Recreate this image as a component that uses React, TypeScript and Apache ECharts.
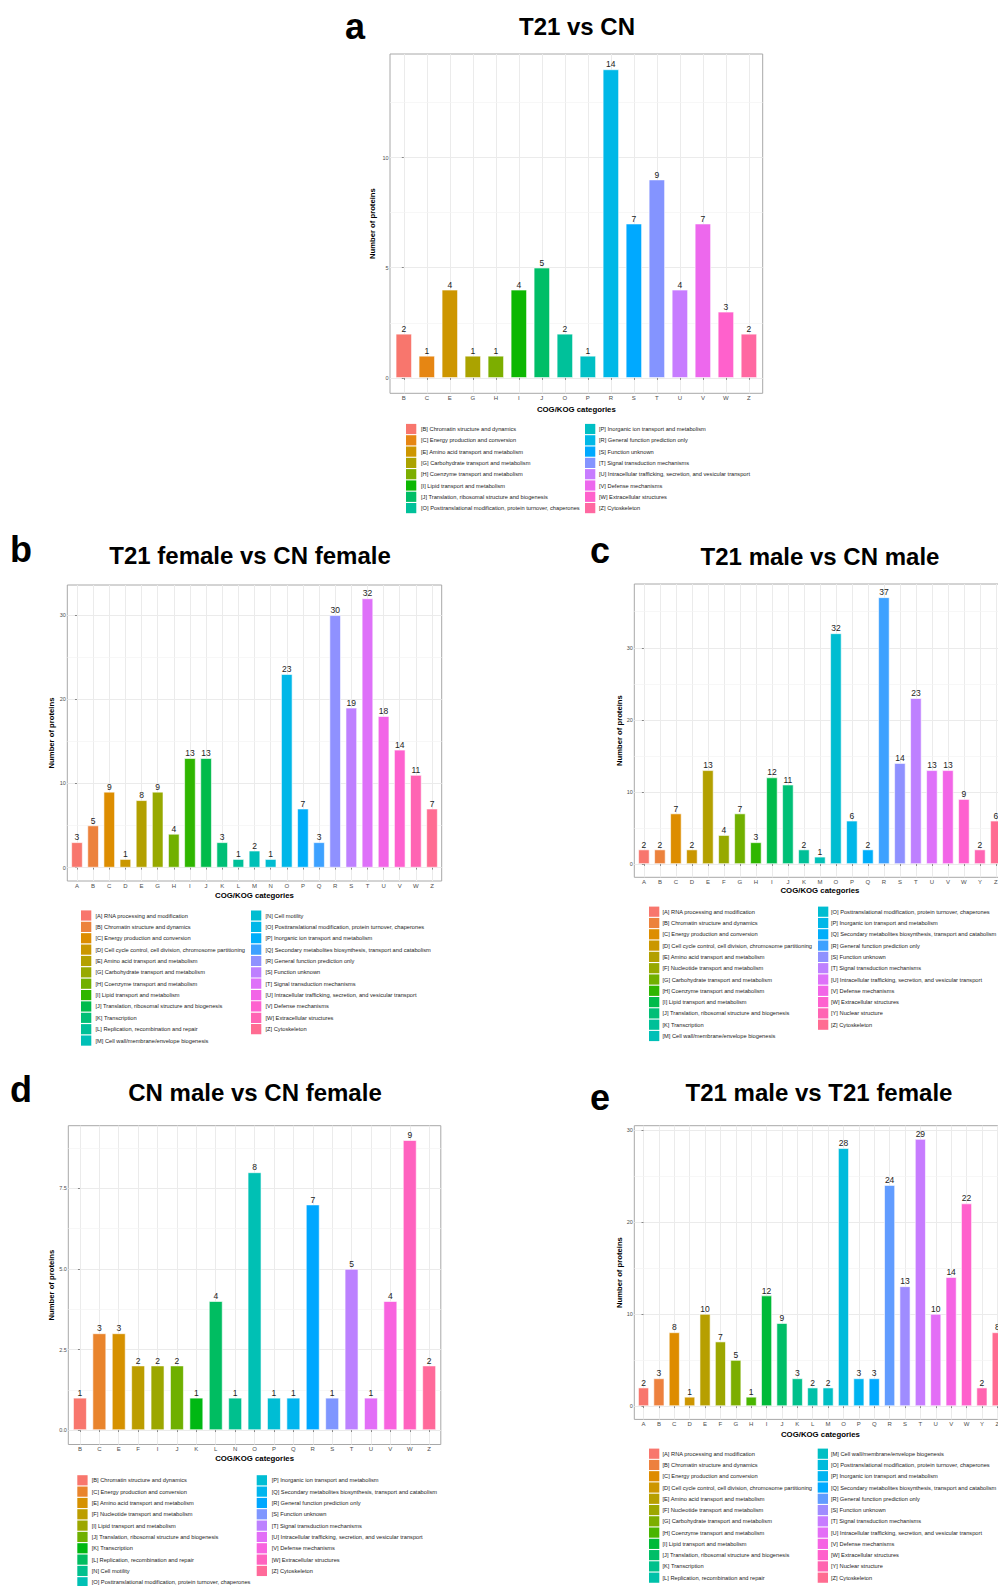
import React, { useEffect, useRef } from 'react';
import * as echarts from 'echarts';

const FONT = 'Arial, "Liberation Sans", Helvetica, sans-serif';

const DESC: Record<string, string> = {
  A: 'RNA processing and modification',
  B: 'Chromatin structure and dynamics',
  C: 'Energy production and conversion',
  D: 'Cell cycle control, cell division, chromosome partitioning',
  E: 'Amino acid transport and metabolism',
  F: 'Nucleotide transport and metabolism',
  G: 'Carbohydrate transport and metabolism',
  H: 'Coenzyme transport and metabolism',
  I: 'Lipid transport and metabolism',
  J: 'Translation, ribosomal structure and biogenesis',
  K: 'Transcription',
  L: 'Replication, recombination and repair',
  M: 'Cell wall/membrane/envelope biogenesis',
  N: 'Cell motility',
  O: 'Posttranslational modification, protein turnover, chaperones',
  P: 'Inorganic ion transport and metabolism',
  Q: 'Secondary metabolites biosynthesis, transport and catabolism',
  R: 'General function prediction only',
  S: 'Function unknown',
  T: 'Signal transduction mechanisms',
  U: 'Intracellular trafficking, secretion, and vesicular transport',
  V: 'Defense mechanisms',
  W: 'Extracellular structures',
  Y: 'Nuclear structure',
  Z: 'Cytoskeleton',
};

// Panel a
const titleA = 'T21 vs CN';
const catsA = ['B', 'C', 'E', 'G', 'H', 'I', 'J', 'O', 'P', 'R', 'S', 'T', 'U', 'V', 'W', 'Z'];
const valsA = [2, 1, 4, 1, 1, 4, 5, 2, 1, 14, 7, 9, 4, 7, 3, 2];
const yTicksA = [0, 5, 10];
const yTickLabelsA = ['0', '5', '10'];
const yMinorA = [2.5, 7.5, 12.5];

// Panel b
const titleB = 'T21 female vs CN female';
const catsB = ['A', 'B', 'C', 'D', 'E', 'G', 'H', 'I', 'J', 'K', 'L', 'M', 'N', 'O', 'P', 'Q', 'R', 'S', 'T', 'U', 'V', 'W', 'Z'];
const valsB = [3, 5, 9, 1, 8, 9, 4, 13, 13, 3, 1, 2, 1, 23, 7, 3, 30, 19, 32, 18, 14, 11, 7];
const yTicksB = [0, 10, 20, 30];
const yTickLabelsB = ['0', '10', '20', '30'];
const yMinorB = [5, 15, 25];

// Panel c
const titleC = 'T21 male vs CN male';
const catsC = ['A', 'B', 'C', 'D', 'E', 'F', 'G', 'H', 'I', 'J', 'K', 'M', 'O', 'P', 'Q', 'R', 'S', 'T', 'U', 'V', 'W', 'Y', 'Z'];
const valsC = [2, 2, 7, 2, 13, 4, 7, 3, 12, 11, 2, 1, 32, 6, 2, 37, 14, 23, 13, 13, 9, 2, 6];
const yTicksC = [0, 10, 20, 30];
const yTickLabelsC = ['0', '10', '20', '30'];
const yMinorC = [5, 15, 25, 35];

// Panel d
const titleD = 'CN male vs CN female';
const catsD = ['B', 'C', 'E', 'F', 'I', 'J', 'K', 'L', 'N', 'O', 'P', 'Q', 'R', 'S', 'T', 'U', 'V', 'W', 'Z'];
const valsD = [1, 3, 3, 2, 2, 2, 1, 4, 1, 8, 1, 1, 7, 1, 5, 1, 4, 9, 2];
const yTicksD = [0, 2.5, 5, 7.5];
const yTickLabelsD = ['0.0', '2.5', '5.0', '7.5'];
const yMinorD = [1.25, 3.75, 6.25, 8.75];

// Panel e
const titleE = 'T21 male vs T21 female';
const catsE = ['A', 'B', 'C', 'D', 'E', 'F', 'G', 'H', 'I', 'J', 'K', 'L', 'M', 'O', 'P', 'Q', 'R', 'S', 'T', 'U', 'V', 'W', 'Y', 'Z'];
const valsE = [2, 3, 8, 1, 10, 7, 5, 1, 12, 9, 3, 2, 2, 28, 3, 3, 24, 13, 29, 10, 14, 22, 2, 8];
const yTicksE = [0, 10, 20, 30];
const yTickLabelsE = ['0', '10', '20', '30'];
const yMinorE = [5, 15, 25];

const X_TITLE = 'COG/KOG categories';
const Y_TITLE = 'Number of proteins';

// ggplot2-like hue palette (HCL, l=65, c=100)
function hcl(h: number, c: number, l: number): string {
  const Xn = 95.047, Yn = 100, Zn = 108.883;
  const hr = (h * Math.PI) / 180;
  const U = c * Math.cos(hr);
  const V = c * Math.sin(hr);
  const Y = Yn * (l > 7.999592 ? Math.pow((l + 16) / 116, 3) : l / 903.3);
  const t = Xn + 15 * Yn + 3 * Zn;
  const un = (4 * Xn) / t;
  const vn = (9 * Yn) / t;
  const u = U / (13 * l) + un;
  const v = V / (13 * l) + vn;
  const X = (9 * Y * u) / (4 * v);
  const Z = -X / 3 - 5 * Y + (3 * Y) / v;
  const g = (x: number) => (x > 0.00304 ? 1.055 * Math.pow(x, 1 / 2.4) - 0.055 : 12.92 * x);
  const r = g((3.240479 * X - 1.53715 * Y - 0.498535 * Z) / Yn);
  const gg = g((-0.969256 * X + 1.875992 * Y + 0.041556 * Z) / Yn);
  const b = g((0.055648 * X - 0.204043 * Y + 1.057311 * Z) / Yn);
  const hx = (x: number) => {
    const n = Math.round(Math.max(0, Math.min(1, x)) * 255);
    return n.toString(16).padStart(2, '0');
  };
  return '#' + hx(r) + hx(gg) + hx(b);
}
function huePal(n: number): string[] {
  const out: string[] = [];
  for (let i = 0; i < n; i++) out.push(hcl(15 + (360 * i) / n, 100, 65));
  return out;
}

const panels = [
  { id: 'a', title: titleA, cats: catsA, vals: valsA, yTicks: yTicksA, yTickLabels: yTickLabelsA, yMinor: yMinorA,
    L: { left: 390, top: 54, width: 372.7, height: 339.3, titleX: 577, titleY: 26, letterX: 345, letterY: 26.5, yTitleX: 372, xTitleY: 409, legY: 429, legDy: 11.3, sqL: 406, txtL: 421, sqR: 585, txtR: 599 } },
  { id: 'b', title: titleB, cats: catsB, vals: valsB, yTicks: yTicksB, yTickLabels: yTickLabelsB, yMinor: yMinorB,
    L: { left: 67.3, top: 585, width: 374.4, height: 296, titleX: 250, titleY: 555, letterX: 10, letterY: 549, yTitleX: 51, xTitleY: 895, legY: 915.5, legDy: 11.37, sqL: 81, txtL: 95.5, sqR: 251, txtR: 265.5 } },
  { id: 'c', title: titleC, cats: catsC, vals: valsC, yTicks: yTicksC, yTickLabels: yTickLabelsC, yMinor: yMinorC,
    L: { left: 634.3, top: 584, width: 371.2, height: 293.3, titleX: 820, titleY: 556, letterX: 590, letterY: 550, yTitleX: 619, xTitleY: 890.7, legY: 911.7, legDy: 11.3, sqL: 649, txtL: 662.5, sqR: 818, txtR: 831 } },
  { id: 'd', title: titleD, cats: catsD, vals: valsD, yTicks: yTicksD, yTickLabels: yTickLabelsD, yMinor: yMinorD,
    L: { left: 68.3, top: 1125.7, width: 372.5, height: 318.8, titleX: 255, titleY: 1092, letterX: 10, letterY: 1089, yTitleX: 51, xTitleY: 1458.7, legY: 1480.3, legDy: 11.33, sqL: 77.3, txtL: 91.7, sqR: 256.7, txtR: 271.7 } },
  { id: 'e', title: titleE, cats: catsE, vals: valsE, yTicks: yTicksE, yTickLabels: yTickLabelsE, yMinor: yMinorE,
    L: { left: 634.3, top: 1125.7, width: 372.2, height: 293.7, titleX: 819, titleY: 1092, letterX: 590, letterY: 1097, yTitleX: 619, xTitleY: 1434, legY: 1453.7, legDy: 11.27, sqL: 649, txtL: 662.5, sqR: 817.7, txtR: 831 } },
];

function buildOption() {
  const grids: any[] = [];
  const xAxes: any[] = [];
  const yAxes: any[] = [];
  const series: any[] = [];
  const graphics: any[] = [];

  panels.forEach((p, k) => {
    const L = p.L;
    const n = p.cats.length;
    const colors = huePal(n);
    const maxV = Math.max(...p.vals);
    const idx = p.cats.map((_, i) => i);

    grids.push({
      left: L.left, top: L.top, width: L.width, height: L.height,
      show: true, borderColor: '#a8a8a8', borderWidth: 1, backgroundColor: '#ffffff', containLabel: false,
    });
    xAxes.push({
      type: 'value', gridIndex: k, min: -0.6, max: n - 1 + 0.6,
      axisLine: { show: false },
      axisTick: { show: true, customValues: idx, length: 2, lineStyle: { color: '#444', width: 0.6 } },
      axisLabel: {
        customValues: idx, margin: 1.5, fontSize: 6, color: '#4d4d4d', fontFamily: FONT,
        formatter: (v: number) => p.cats[Math.round(v)] ?? '',
      },
      splitLine: { show: true, lineStyle: { color: '#ebebeb', width: 1 } },
    });
    yAxes.push({
      type: 'value', gridIndex: k, min: -maxV * 0.05, max: maxV * 1.05,
      axisLine: { show: false },
      axisTick: { show: true, customValues: p.yTicks, length: 2, lineStyle: { color: '#444', width: 0.6 } },
      axisLabel: {
        customValues: p.yTicks, margin: 1.5, fontSize: 5.5, color: '#4d4d4d', fontFamily: FONT,
        formatter: (v: number) => {
          const i = p.yTicks.findIndex((t) => Math.abs(t - v) < 1e-6);
          return i >= 0 ? p.yTickLabels[i] : '';
        },
      },
      splitLine: { show: true, lineStyle: { color: '#ebebeb', width: 1 } },
    });
    series.push({
      type: 'bar', xAxisIndex: k, yAxisIndex: k, barWidth: '70%',
      data: p.vals.map((v, i) => ({ value: [i, v], itemStyle: { color: colors[i] } })),
      itemStyle: { borderColor: '#ffffff', borderWidth: 0.6 },
      label: {
        show: true, position: 'top', distance: 0.5, fontSize: 8.5, color: '#222', fontFamily: FONT,
        formatter: (q: any) => String(q.value[1]),
      },
      markLine: {
        silent: true, symbol: 'none', z: 1, animation: false,
        label: { show: false },
        lineStyle: { color: '#f4f4f4', type: 'solid', width: 0.7 },
        data: p.yMinor.map((v) => ({ yAxis: v })),
      },
      z: 2,
    });

    // titles
    graphics.push({
      type: 'text', x: L.titleX, y: L.titleY,
      style: { text: p.title, fontFamily: FONT, fontWeight: 'bold', fontSize: 24, fill: '#000', textAlign: 'center', textVerticalAlign: 'middle' },
    });
    graphics.push({
      type: 'text', x: L.letterX, y: L.letterY,
      style: { text: p.id, fontFamily: FONT, fontWeight: 'bold', fontSize: 36, fill: '#000', textAlign: 'left', textVerticalAlign: 'middle' },
    });
    graphics.push({
      type: 'text', x: L.yTitleX, y: L.top + L.height / 2, rotation: Math.PI / 2,
      style: { text: Y_TITLE, fontFamily: FONT, fontWeight: 'bold', fontSize: 7.7, fill: '#000', textAlign: 'center', textVerticalAlign: 'middle' },
    });
    graphics.push({
      type: 'text', x: L.left + L.width / 2, y: L.xTitleY,
      style: { text: X_TITLE, fontFamily: FONT, fontWeight: 'bold', fontSize: 7.8, fill: '#000', textAlign: 'center', textVerticalAlign: 'middle' },
    });

    // legend (two columns, filled by column)
    const rows = Math.ceil(n / 2);
    p.cats.forEach((c, i) => {
      const col = i < rows ? 0 : 1;
      const r = col === 0 ? i : i - rows;
      const cy = L.legY + r * L.legDy;
      const sx = col === 0 ? L.sqL : L.sqR;
      const tx = col === 0 ? L.txtL : L.txtR;
      graphics.push({
        type: 'rect', shape: { x: sx, y: cy - 5.1, width: 10.3, height: 10.2 },
        style: { fill: colors[i] },
      });
      graphics.push({
        type: 'text', x: tx, y: cy,
        style: { text: `[${c}] ${DESC[c]}`, fontFamily: FONT, fontSize: 5.7, fill: '#222', textAlign: 'left', textVerticalAlign: 'middle' },
      });
    });
  });

  return {
    animation: false,
    backgroundColor: '#ffffff',
    grid: grids,
    xAxis: xAxes,
    yAxis: yAxes,
    series,
    graphic: graphics,
  };
}

export default function App() {
  const ref = useRef<HTMLDivElement>(null);
  useEffect(() => {
    document.body.style.margin = '0';
    if (!ref.current) return;
    const chart = echarts.init(ref.current, undefined, { renderer: 'svg' });
    chart.setOption(buildOption() as any);
    return () => chart.dispose();
  }, []);
  return (
    <div style={{ position: 'absolute', left: 0, top: 0, width: 998, height: 1586, overflow: 'hidden', background: '#fff' }}>
      <div ref={ref} style={{ width: 1016, height: 1586 }} />
    </div>
  );
}
